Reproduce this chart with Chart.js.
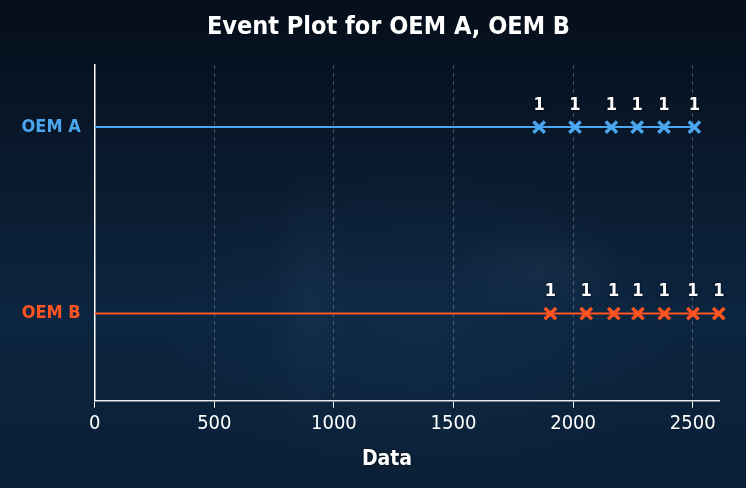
<!DOCTYPE html>
<html>
<head>
<meta charset="utf-8">
<script src="https://cdn.jsdelivr.net/npm/chart.js@4.4.1/dist/chart.umd.min.js"></script>
<style>
html,body{margin:0;padding:0;width:746px;height:488px;overflow:hidden;}
body{
  background:
    radial-gradient(ellipse 90px 50px at 540px 270px, rgba(120,150,180,0.07), rgba(0,0,0,0)),
    radial-gradient(ellipse 40px 140px at 310px 300px, rgba(70,100,130,0.10), rgba(0,0,0,0)),
    radial-gradient(ellipse 260px 160px at 420px 330px, rgba(25,55,90,0.30), rgba(0,0,0,0)),
    linear-gradient(180deg, #050e1a 0%, #0a1a2e 35%, #0c2540 65%, #0a1f35 100%);
}
#wrap{position:absolute;left:0;top:0;width:746px;height:488px;}
</style>
</head>
<body>
<div id="wrap"><canvas id="c" width="746" height="488"></canvas></div>
<script>
const categories = ["OEM A", "OEM B"];
const eventsOEMA = [1858, 2008, 2160, 2268, 2380, 2507];
const eventsOEMB = [1905, 2055, 2170, 2271, 2381, 2501, 2609];
const eventCountsA = [1, 1, 1, 1, 1, 1];
const eventCountsB = [1, 1, 1, 1, 1, 1, 1];
const xTicks = [0, 500, 1000, 1500, 2000, 2500];
const rowValues = [1, 0];

const colorA = '#4aa6ef';
const colorB = '#ff5420';
const FONT = '"DejaVu Sans Condensed", Roboto, sans-serif';

const eventSets = [eventsOEMA, eventsOEMB];
const countSets = [eventCountsA, eventCountsB];
const colors = [colorA, colorB];

const datasets = [];
categories.forEach((name, i) => {
  const ev = eventSets[i];
  datasets.push({
    type: 'line',
    label: name + ' line',
    data: [{x: 0, y: rowValues[i]}, {x: Math.max(...ev), y: rowValues[i]}],
    borderColor: colors[i],
    borderWidth: 2,
    pointRadius: 0,
    fill: false,
    clip: false
  });
  datasets.push({
    type: 'scatter',
    label: name,
    data: ev.map(v => ({x: v, y: rowValues[i]})),
    pointStyle: 'crossRot',
    pointRadius: 8,
    borderColor: colors[i],
    backgroundColor: colors[i],
    pointBorderWidth: 3.4,
    showLine: false,
    clip: false,
    counts: countSets[i]
  });
});

const countLabels = {
  id: 'countLabels',
  afterDatasetsDraw(chart) {
    const ctx = chart.ctx;
    ctx.save();
    ctx.font = 'bold 18px ' + FONT;
    ctx.fillStyle = '#ffffff';
    ctx.textAlign = 'center';
    ctx.textBaseline = 'middle';
    ctx.shadowColor = 'rgba(0,0,0,0.85)';
    ctx.shadowBlur = 3;
    chart.data.datasets.forEach((ds, di) => {
      if (!ds.counts) return;
      const meta = chart.getDatasetMeta(di);
      meta.data.forEach((pt, j) => {
        ctx.fillText(String(ds.counts[j]), pt.x, pt.y - 22);
      });
    });
    ctx.restore();
  }
};

const xLabel = {
  id: 'xLabel',
  afterDraw(chart) {
    const ctx = chart.ctx;
    ctx.save();
    ctx.font = 'bold 21px ' + FONT;
    ctx.fillStyle = '#ffffff';
    ctx.textAlign = 'center';
    ctx.textBaseline = 'middle';
    ctx.shadowColor = 'rgba(0,0,0,0.7)';
    ctx.shadowBlur = 3;
    ctx.fillText('Data', 387, 460);
    ctx.restore();
  }
};

const shiftTitle = {
  id: 'shiftTitle',
  beforeDraw(chart) {
    if (chart.titleBlock) { chart.titleBlock.left = 31; chart.titleBlock.right = 746; }
  }
};

new Chart(document.getElementById('c'), {
  data: { datasets },
  options: {
    responsive: false,
    animation: false,
    layout: { padding: { left: 0, right: 27, top: 0, bottom: 0 } },
    plugins: {
      legend: { display: false },
      tooltip: { enabled: false },
      title: {
        display: true,
        text: 'Event Plot for OEM A, OEM B',
        color: '#ffffff',
        font: { family: FONT, size: 25, weight: 'bold', lineHeight: 1.2 },
        padding: { top: 12, bottom: 23 }
      }
    },
    scales: {
      x: {
        type: 'linear',
        min: 0,
        max: 2610,
        afterBuildTicks(scale) { scale.ticks = xTicks.map(v => ({value: v})); },
        afterFit(scale) { scale.height = 87.3; },
        ticks: {
          color: '#ffffff',
          font: { family: FONT, size: 20 },
          padding: 4,
          callback: (v) => String(v)
        },
        grid: {
          display: true,
          color: 'rgba(190,200,215,0.35)',
          lineWidth: 1,
          tickColor: '#ffffff',
          tickLength: 7,
          tickBorderDash: [],
          drawOnChartArea: true
        },
        border: { display: true, color: '#e8e8e8', width: 1.5, dash: [4, 4] }
      },
      y: {
        type: 'linear',
        min: -0.467,
        max: 1.333,
        afterBuildTicks(scale) { scale.ticks = rowValues.map(v => ({value: v})); },
        afterFit(scale) { scale.width = 94.7; },
        ticks: {
          color: (c) => c.tick && c.tick.value === 1 ? colorA : colorB,
          font: { family: FONT, size: 18, weight: 'bold' },
          padding: 14,
          callback: (v) => categories[rowValues.indexOf(v)]
        },
        grid: { display: false, drawTicks: false },
        border: { display: true, color: '#ffffff', width: 1.5 }
      }
    }
  },
  plugins: [countLabels, xLabel, shiftTitle]
});
</script>
</body>
</html>
